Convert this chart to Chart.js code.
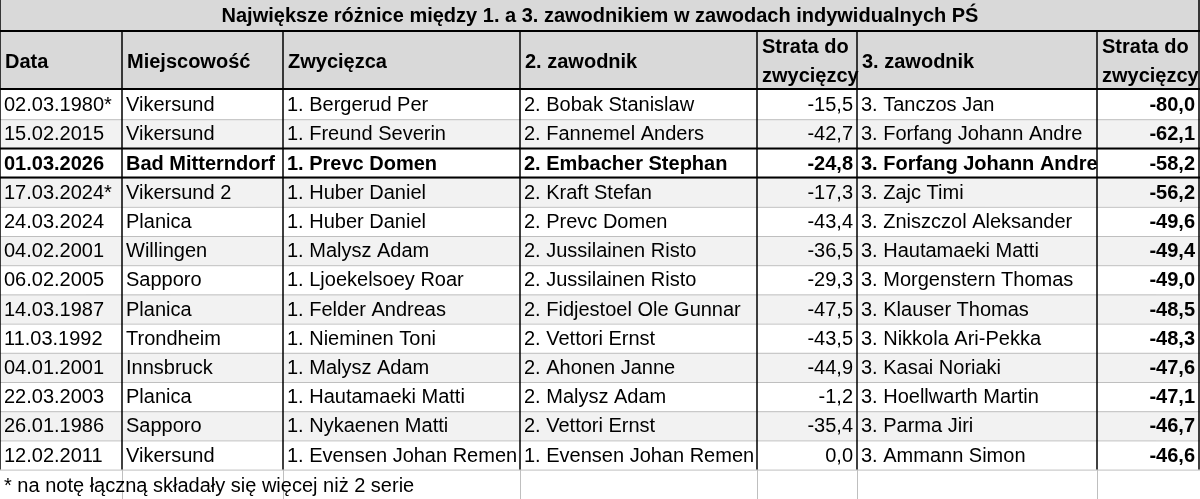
<!DOCTYPE html>
<html><head><meta charset="utf-8">
<script src="https://cdn.jsdelivr.net/npm/chart.js@4"></script>
<style>html,body{margin:0;padding:0;background:#fff}#w{width:1200px;height:499px}</style>
</head><body><div id="w"><canvas id="c"></canvas></div>
<script>
const title = "Największe różnice między 1. a 3. zawodnikiem w zawodach indywidualnych PŚ";
const headers = ["Data","Miejscowość","Zwycięzca","2. zawodnik","Strata do|zwycięzcy","3. zawodnik","Strata do|zwycięzcy"];
const dates = ["02.03.1980*","15.02.2015","01.03.2026","17.03.2024*","24.03.2024","04.02.2001","06.02.2005","14.03.1987","11.03.1992","04.01.2001","22.03.2003","26.01.1986","12.02.2011"];
const places = ["Vikersund","Vikersund","Bad Mitterndorf","Vikersund 2","Planica","Willingen","Sapporo","Planica","Trondheim","Innsbruck","Planica","Sapporo","Vikersund"];
const winners = ["1. Bergerud Per","1. Freund Severin","1. Prevc Domen","1. Huber Daniel","1. Huber Daniel","1. Malysz Adam","1. Ljoekelsoey Roar","1. Felder Andreas","1. Nieminen Toni","1. Malysz Adam","1. Hautamaeki Matti","1. Nykaenen Matti","1. Evensen Johan Remen"];
const seconds = ["2. Bobak Stanislaw","2. Fannemel Anders","2. Embacher Stephan","2. Kraft Stefan","2. Prevc Domen","2. Jussilainen Risto","2. Jussilainen Risto","2. Fidjestoel Ole Gunnar","2. Vettori Ernst","2. Ahonen Janne","2. Malysz Adam","2. Vettori Ernst","1. Evensen Johan Remen"];
const loss2 = [-15.5,-42.7,-24.8,-17.3,-43.4,-36.5,-29.3,-47.5,-43.5,-44.9,-1.2,-35.4,0.0];
const thirds = ["3. Tanczos Jan","3. Forfang Johann Andre","3. Forfang Johann Andre","3. Zajc Timi","3. Zniszczol Aleksander","3. Hautamaeki Matti","3. Morgenstern Thomas","3. Klauser Thomas","3. Nikkola Ari-Pekka","3. Kasai Noriaki","3. Hoellwarth Martin","3. Parma Jiri","3. Ammann Simon"];
const loss3 = [-80.0,-62.1,-58.2,-56.2,-49.6,-49.4,-49.0,-48.5,-48.3,-47.6,-47.1,-46.7,-46.6];
const boldRow = 2;
const footnote = "* na notę łączną składały się więcej niż 2 serie";

const colX = [0,122,283,520,757,857,1097,1199];
const FONT = "'Liberation Sans', Arial, sans-serif";
const FS = 20;
const fmt = v => v.toFixed(1).replace('.',',');

const tablePlugin = {
  id:'table',
  afterDraw(chart){
    const ctx = chart.ctx, xs = chart.scales.x, ys = chart.scales.y;
    const X = v => xs.getPixelForValue(v), Y = v => ys.getPixelForValue(v);
    ctx.save();
    ctx.fillStyle = '#d9d9d9';
    ctx.fillRect(X(0),Y(0),X(1200)-X(0),Y(90)-Y(0));
    const rh = 29.2, r0 = 90;
    dates.forEach((d,i)=>{
      ctx.fillStyle = i%2===1 ? '#f2f2f2' : '#ffffff';
      ctx.fillRect(X(0),Y(r0+i*rh),X(1200)-X(0),rh);
    });
    ctx.strokeStyle='#bfbfbf'; ctx.lineWidth=1;
    for(let i=1;i<=dates.length;i++){ctx.beginPath();ctx.moveTo(X(0),Y(r0+i*rh)+0.5);ctx.lineTo(X(1200),Y(r0+i*rh)+0.5);ctx.stroke();}
    for(let c=1;c<colX.length-1;c++){ctx.beginPath();ctx.moveTo(X(colX[c])+0.5,Y(r0+dates.length*rh));ctx.lineTo(X(colX[c])+0.5,Y(499));ctx.stroke();}
    ctx.strokeStyle='#000'; ctx.lineWidth=2;
    const hl=(y)=>{ctx.beginPath();ctx.moveTo(X(0),Y(y));ctx.lineTo(X(1200),Y(y));ctx.stroke();};
    hl(31); hl(89); hl(r0+boldRow*rh); hl(r0+(boldRow+1)*rh);
    ctx.lineWidth=1.5;
    for(let c=0;c<colX.length;c++){ctx.beginPath();ctx.moveTo(X(colX[c]),Y(31));ctx.lineTo(X(colX[c]),Y(r0+dates.length*rh));ctx.stroke();}
    ctx.beginPath();ctx.moveTo(X(0),Y(0));ctx.lineTo(X(0),Y(31));ctx.moveTo(X(1199),Y(0));ctx.lineTo(X(1199),Y(31));ctx.stroke();
    ctx.fillStyle='#000'; ctx.textBaseline='middle';
    ctx.font='bold '+FS+'px '+FONT; ctx.textAlign='center';
    ctx.fillText(title,X(600),Y(16));
    headers.forEach((h,c)=>{
      const parts=h.split('|'); ctx.textAlign='left';
      if(parts.length===1) ctx.fillText(h,X(colX[c])+5,Y(62));
      else {ctx.fillText(parts[0],X(colX[c])+5,Y(47));ctx.fillText(parts[1],X(colX[c])+5,Y(76));}
    });
    dates.forEach((d,i)=>{
      const yc = Y(r0+i*rh+rh/2+1);
      const cells=[d,places[i],winners[i],seconds[i],fmt(loss2[i]),thirds[i],fmt(loss3[i])];
      cells.forEach((t,c)=>{
        const b = (i===boldRow || c===6);
        ctx.font=(b?'bold ':'')+FS+'px '+FONT;
        if(c===4||c===6){ctx.textAlign='right';ctx.fillText(t,X(colX[c+1])-4,yc);}
        else {ctx.textAlign='left';ctx.fillText(t,X(colX[c])+4,yc);}
      });
    });
    ctx.font=FS+'px '+FONT; ctx.textAlign='left';
    ctx.fillText(footnote,X(4),Y(486));
    ctx.restore();
  }
};

new Chart(document.getElementById('c'),{
  type:'scatter',
  data:{datasets:[{data:[],pointRadius:0}]},
  options:{
    responsive:true,maintainAspectRatio:false,animation:false,
    layout:{padding:0},
    plugins:{legend:{display:false},tooltip:{enabled:false}},
    scales:{
      x:{type:'linear',min:0,max:1200,display:false},
      y:{type:'linear',min:0,max:499,reverse:true,display:false}
    }
  },
  plugins:[tablePlugin]
});
</script></body></html>
